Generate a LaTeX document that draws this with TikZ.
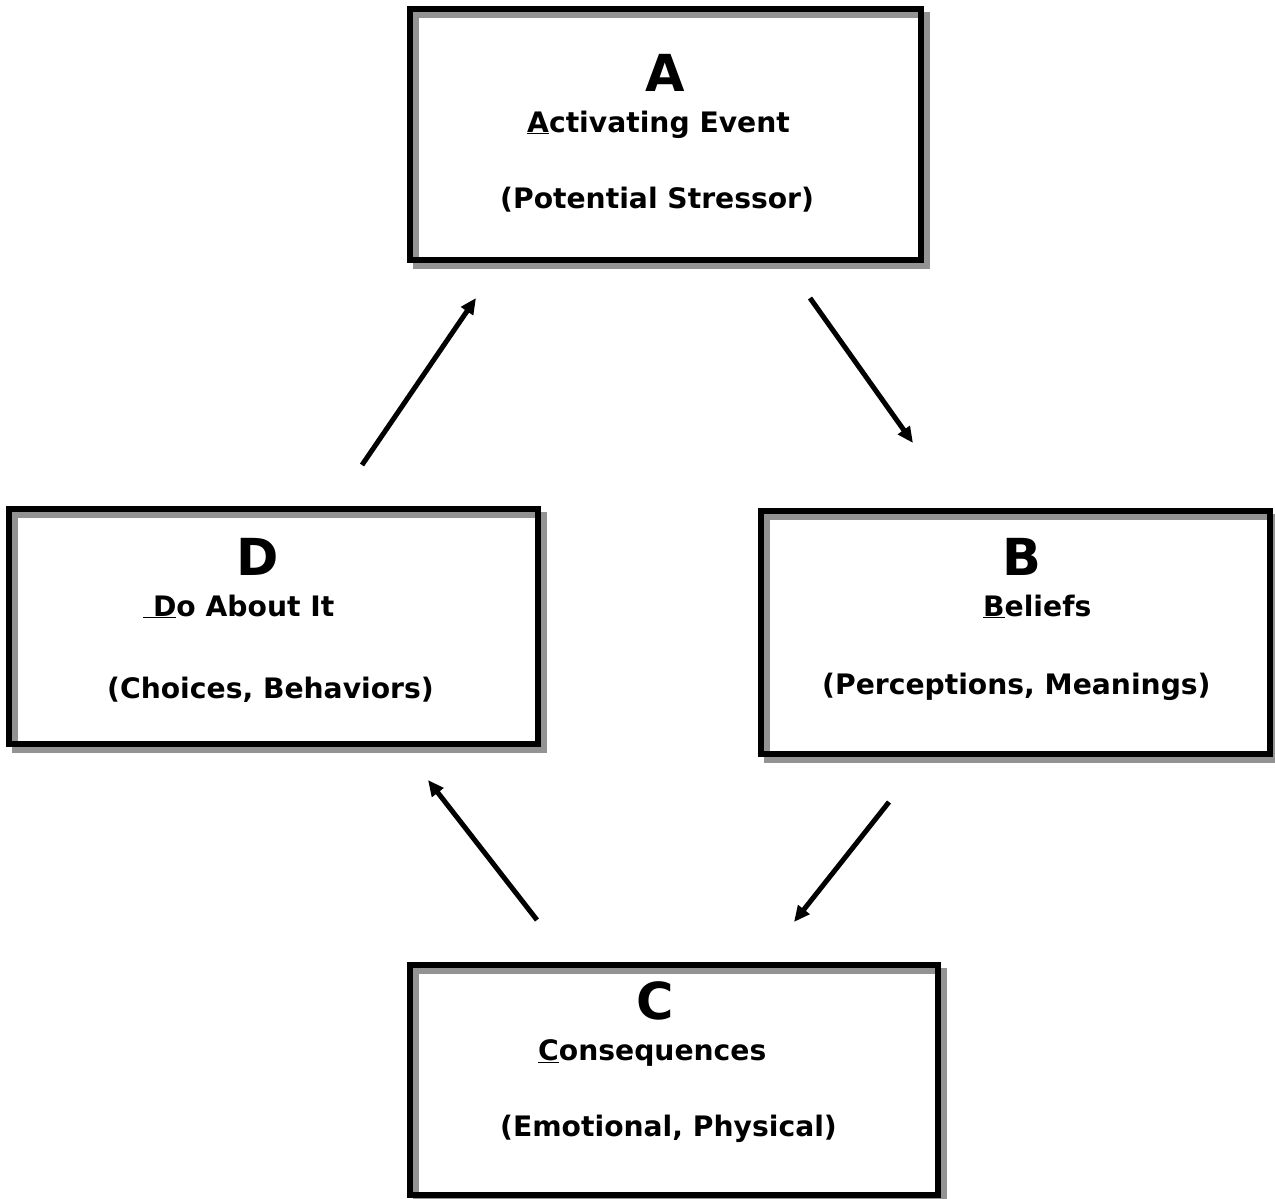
\documentclass[tikz,border=0pt]{standalone}
\usepackage{fontspec}
\setmainfont{DejaVu Sans}
\usetikzlibrary{arrows.meta,backgrounds}
\tikzset{
  box/.style={draw=black, line width=6.5pt, rectangle, inner sep=0pt, outer sep=0pt},
  shadowline/.style={draw=gray!85, line width=6pt},
  big/.style={inner sep=0pt, anchor=base, font=\fontsize{51}{51}\selectfont\bfseries},
  txt/.style={inner sep=0pt, anchor=base west, font=\fontsize{28.2}{28.2}\selectfont\bfseries},
  conn/.style={line width=5pt, -{Triangle[length=16pt,width=14pt]}}
}
\begin{document}
\begin{tikzpicture}[x=1pt,y=-1pt]
\useasboundingbox (0,0) rectangle (1275,1199);
% boxes
\node[box, minimum width=511pt, minimum height=251pt] (A) at (665.3,134.5) {};
\node[box, minimum width=509pt, minimum height=243pt] (B) at (1015.5,632.5) {};
\node[box, minimum width=529pt, minimum height=235pt] (D) at (273.5,626.5) {};
\node[box, minimum width=528pt, minimum height=230pt] (C) at (674,1080) {};
\begin{scope}[on background layer]
  \fill[white] (0,0) rectangle (1275,1199);
  \foreach \n in {A,B,C,D}{
    \draw[shadowline] ([xshift=6pt,yshift=-6pt]\n.south west) rectangle ([xshift=6pt,yshift=-6pt]\n.north east);
  }
\end{scope}
% texts A
\node[big] (Aletter) at (665,92) {A};
\node[txt] (Aname) at (527,132) {\underline{A}ctivating Event};
\node[txt] (Adesc) at (500,208) {(Potential Stressor)};
% texts D
\node[big] (Dletter) at (258,575) {D};
\node[txt] (Dname) at (143,616) {\underline{\ D}o About It};
\node[txt] (Ddesc) at (107,698) {(Choices, Behaviors)};
% texts B
\node[big] (Bletter) at (1022,575) {B};
\node[txt] (Bname) at (983,616) {\underline{B}eliefs};
\node[txt] (Bdesc) at (822,694) {(Perceptions, Meanings)};
% texts C
\node[big] (Cletter) at (655,1019) {C};
\node[txt] (Cname) at (538,1060) {\underline{C}onsequences};
\node[txt] (Cdesc) at (500,1136) {(Emotional, Physical)};
% connectors
\coordinate (d1) at (362,465); \coordinate (a1) at (476,298);
\coordinate (a2) at (810,298); \coordinate (b1) at (913,443);
\coordinate (b2) at (889,802); \coordinate (c1) at (794,922);
\coordinate (c2) at (537,920); \coordinate (d2) at (428,780);
\draw[conn] (d1) -- (a1);
\draw[conn] (a2) -- (b1);
\draw[conn] (b2) -- (c1);
\draw[conn] (c2) -- (d2);
\end{tikzpicture}
\end{document}
